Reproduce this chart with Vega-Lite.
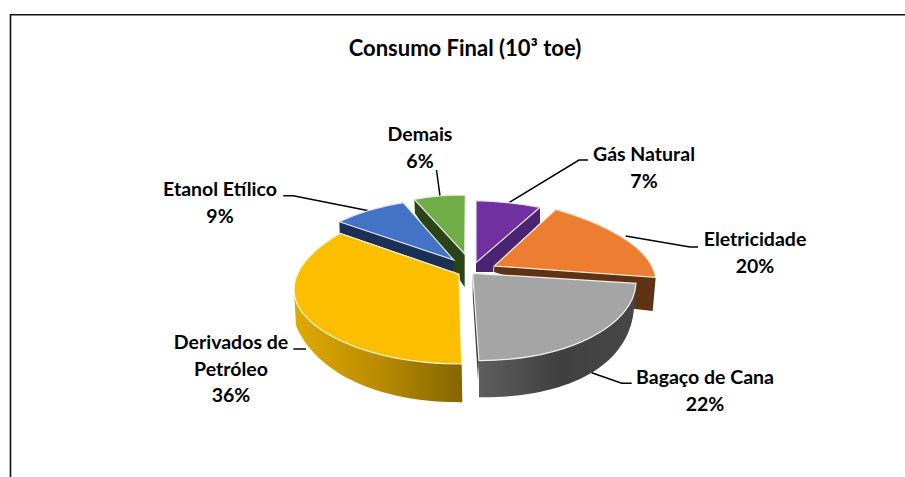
{"$schema":"https://vega.github.io/schema/vega-lite/v6.json","width":905,"height":477,"autosize":{"type":"none"},"padding":0,"background":"white","view":{"stroke":null},
"data":{"values":[
{"category":"Gás Natural","share":7,"label":"Gás Natural\n7%"},
{"category":"Eletricidade","share":20,"label":"Eletricidade\n20%"},
{"category":"Bagaço de Cana","share":22,"label":"Bagaço de Cana\n22%"},
{"category":"Derivados de Petróleo","share":36,"label":"Derivados de\nPetróleo\n36%"},
{"category":"Etanol Etílico","share":9,"label":"Etanol Etílico\n9%"},
{"category":"Demais","share":6,"label":"Demais\n6%"}]},
"layer":[
{"transform":[{"filter":"datum.category==='Demais'"}],"mark":{"type":"point","size":4,"opacity":1,"filled":false,"fill":null,"stroke":"#111111","strokeWidth":1.6,"shape":"M-442,238.5 L-442,-223.8 L452.5,-223.8"},"encoding":{}},
{"transform":[{"filter":"datum.category==='Gás Natural'"}],"mark":{"type":"point","size":4,"opacity":1,"filled":false,"fill":null,"stroke":"black","strokeWidth":1.5,"shape":"M56.5,-35.8 L126.5,-78.5 L135.5,-78.5"},"encoding":{}},
{"transform":[{"filter":"datum.category==='Eletricidade'"}],"mark":{"type":"point","size":4,"opacity":1,"filled":false,"fill":null,"stroke":"black","strokeWidth":1.5,"shape":"M173.2,-2.5 L237.5,8.5 L245.5,8.5"},"encoding":{}},
{"transform":[{"filter":"datum.category==='Bagaço de Cana'"}],"mark":{"type":"point","size":4,"opacity":1,"filled":false,"fill":null,"stroke":"black","strokeWidth":1.5,"shape":"M139.2,134.2 L169.2,144.8 L179.2,144.8"},"encoding":{}},
{"transform":[{"filter":"datum.category==='Derivados de Petróleo'"}],"mark":{"type":"point","size":4,"opacity":1,"filled":false,"fill":null,"stroke":"black","strokeWidth":1.5,"shape":"M-159.2,110.5 L-146.5,110.5"},"encoding":{}},
{"transform":[{"filter":"datum.category==='Etanol Etílico'"}],"mark":{"type":"point","size":4,"opacity":1,"filled":false,"fill":null,"stroke":"black","strokeWidth":1.5,"shape":"M-169.2,-42.8 L-159.2,-42.8 L-82.5,-27.5"},"encoding":{}},
{"transform":[{"filter":"datum.category==='Demais'"}],"mark":{"type":"point","size":4,"opacity":1,"filled":false,"fill":null,"stroke":"black","strokeWidth":1.5,"shape":"M-12.5,-42.5 L-16,-68.5"},"encoding":{}},
{"transform":[{"filter":"datum.category==='Gás Natural'"}],"mark":{"type":"point","size":4,"opacity":1,"filled":true,"fill":"#4a2371","shape":"M87.5,-31.2 L87.5,-15.5 L40.8,28.8 L40.8,33.5 L23.5,33.5 L23.5,24.2 Z"},"encoding":{}},
{"transform":[{"filter":"datum.category==='Gás Natural'"}],"mark":{"type":"point","size":4,"opacity":1,"filled":true,"fill":"#7030a0","stroke":"#e8e4ee","strokeWidth":1.2,"shape":"M23.5,-37.8 C44.5,-37.5 67.5,-34.8 87.5,-31.2 L23.5,24.2 Z"},"encoding":{}},
{"transform":[{"filter":"datum.category==='Demais'"}],"mark":{"type":"point","size":4,"opacity":1,"filled":true,"fill":"#2c4219","shape":"M-38.2,-39.2 L-37.5,-25.2 L12.2,48.8 L12.2,15.5 Z"},"encoding":{}},
{"transform":[{"filter":"datum.category==='Demais'"}],"mark":{"type":"point","size":4,"opacity":1,"filled":true,"fill":"#70ad47","stroke":"#e6eee0","strokeWidth":1.2,"shape":"M-38.2,-39.2 C-22.5,-42 -4.5,-43.5 12.8,-43.5 L12.2,15.5 Z"},"encoding":{}},
{"transform":[{"filter":"datum.category==='Etanol Etílico'"}],"mark":{"type":"point","size":4,"opacity":1,"filled":true,"fill":"#1b2f57","shape":"M-113.2,-16.8 L-112.8,-5.8 L1.2,33.8 L1.2,21.5 Z"},"encoding":{}},
{"transform":[{"filter":"datum.category==='Etanol Etílico'"}],"mark":{"type":"point","size":4,"opacity":1,"filled":true,"fill":"#4472c4","stroke":"#e2e7f0","strokeWidth":1.2,"shape":"M-113.2,-16.8 C-92.5,-26.5 -70.5,-32.5 -49.2,-35.8 L1.2,21.5 Z"},"encoding":{}},
{"transform":[{"filter":"datum.category==='Eletricidade'"}],"mark":{"type":"point","size":4,"opacity":1,"filled":true,"fill":"#5f3213","shape":"M41.8,27.5 L203.2,38.8 L200.2,72.5 L147.5,66.5 L41.5,33.5 Z"},"encoding":{}},
{"transform":[{"filter":"datum.category==='Eletricidade'"}],"mark":{"type":"point","size":4,"opacity":1,"filled":true,"fill":"#ed7d31","stroke":"#f6e6da","strokeWidth":1.2,"shape":"M103.5,-29.2 C147.5,-16.5 197.5,6.5 203.2,38.8 L41.8,27.5 Z"},"encoding":{}},
{"transform":[{"filter":"datum.category==='Derivados de Petróleo'"}],"mark":{"type":"point","size":4,"opacity":1,"filled":true,"fill":{"gradient":"linear","x1":0,"y1":0,"x2":1,"y2":0,"stops":[{"offset":0,"color":"#dfaa00"},{"offset":0.5,"color":"#b98c00"},{"offset":1,"color":"#866500"}]},"shape":"M-158.5,51.5 L-156.5,86.5 C-147.5,111.5 -107.5,163.5 9.8,163.8 L9.2,125.5 C-82.5,125.5 -158.5,91.5 -158.5,51.5 Z"},"encoding":{}},
{"transform":[{"filter":"datum.category==='Derivados de Petróleo'"}],"mark":{"type":"point","size":4,"opacity":1,"filled":true,"fill":"#fcbf00","stroke":"#fff6dc","strokeWidth":1.2,"shape":"M-112.5,-5.2 C-140.5,11.5 -158.5,29.5 -158.5,51.5 C-158.5,91.5 -82.5,125.5 9.2,125.5 L6.5,35.8 Z"},"encoding":{}},
{"transform":[{"filter":"datum.category==='Bagaço de Cana'"}],"mark":{"type":"point","size":4,"opacity":1,"filled":true,"fill":{"gradient":"linear","x1":0,"y1":0,"x2":1,"y2":0,"stops":[{"offset":0,"color":"#5e5e5e"},{"offset":0.5,"color":"#404040"},{"offset":1,"color":"#474747"}]},"shape":"M183.5,44.8 L181.5,69.5 C177.5,126.5 117.5,159.5 26.5,158.8 L26.5,122.2 C117.5,121.5 181.5,86.5 183.5,44.8 Z"},"encoding":{}},
{"transform":[{"filter":"datum.category==='Bagaço de Cana'"}],"mark":{"type":"point","size":4,"opacity":1,"filled":true,"fill":"#444444","shape":"M20.2,34.8 L20.2,56.5 L25.5,141.5 L26.5,122.2 Z"},"encoding":{}},
{"transform":[{"filter":"datum.category==='Bagaço de Cana'"}],"mark":{"type":"point","size":4,"opacity":1,"filled":true,"fill":"#a5a5a5","stroke":"#eeeeee","strokeWidth":1.2,"shape":"M20.2,34.8 L183.5,44.8 C181.5,86.5 117.5,121.5 26.5,122.2 Z"},"encoding":{}},
{"transform":[{"filter":"datum.category==='Demais'"}],"mark":{"type":"text","text":"Consumo Final (10³ toe)","font":"Lato","fontWeight":"bold","fontSize":22,"color":"black","dx":12.5,"dy":-189.5},"encoding":{}},
{"transform":[{"filter":"datum.category==='Gás Natural'"}],"mark":{"type":"text","font":"Lato","fontWeight":"bold","fontSize":19.5,"lineHeight":26.5,"lineBreak":"\n","color":"black","dx":191.5,"dy":-83.5},"encoding":{"text":{"field":"label"}}},
{"transform":[{"filter":"datum.category==='Eletricidade'"}],"mark":{"type":"text","font":"Lato","fontWeight":"bold","fontSize":19.5,"lineHeight":26.5,"lineBreak":"\n","color":"black","dx":302.5,"dy":1.5},"encoding":{"text":{"field":"label"}}},
{"transform":[{"filter":"datum.category==='Bagaço de Cana'"}],"mark":{"type":"text","font":"Lato","fontWeight":"bold","fontSize":19.5,"lineHeight":26.5,"lineBreak":"\n","color":"black","dx":252.5,"dy":139.5},"encoding":{"text":{"field":"label"}}},
{"transform":[{"filter":"datum.category==='Derivados de Petróleo'"}],"mark":{"type":"text","font":"Lato","fontWeight":"bold","fontSize":19.5,"lineHeight":26.5,"lineBreak":"\n","color":"black","dx":-221.5,"dy":104.5},"encoding":{"text":{"field":"label"}}},
{"transform":[{"filter":"datum.category==='Etanol Etílico'"}],"mark":{"type":"text","font":"Lato","fontWeight":"bold","fontSize":19.5,"lineHeight":26.5,"lineBreak":"\n","color":"black","dx":-232.5,"dy":-48.5},"encoding":{"text":{"field":"label"}}},
{"transform":[{"filter":"datum.category==='Demais'"}],"mark":{"type":"text","font":"Lato","fontWeight":"bold","fontSize":19.5,"lineHeight":26.5,"lineBreak":"\n","color":"black","dx":-32.5,"dy":-103.5},"encoding":{"text":{"field":"label"}}}
]}
